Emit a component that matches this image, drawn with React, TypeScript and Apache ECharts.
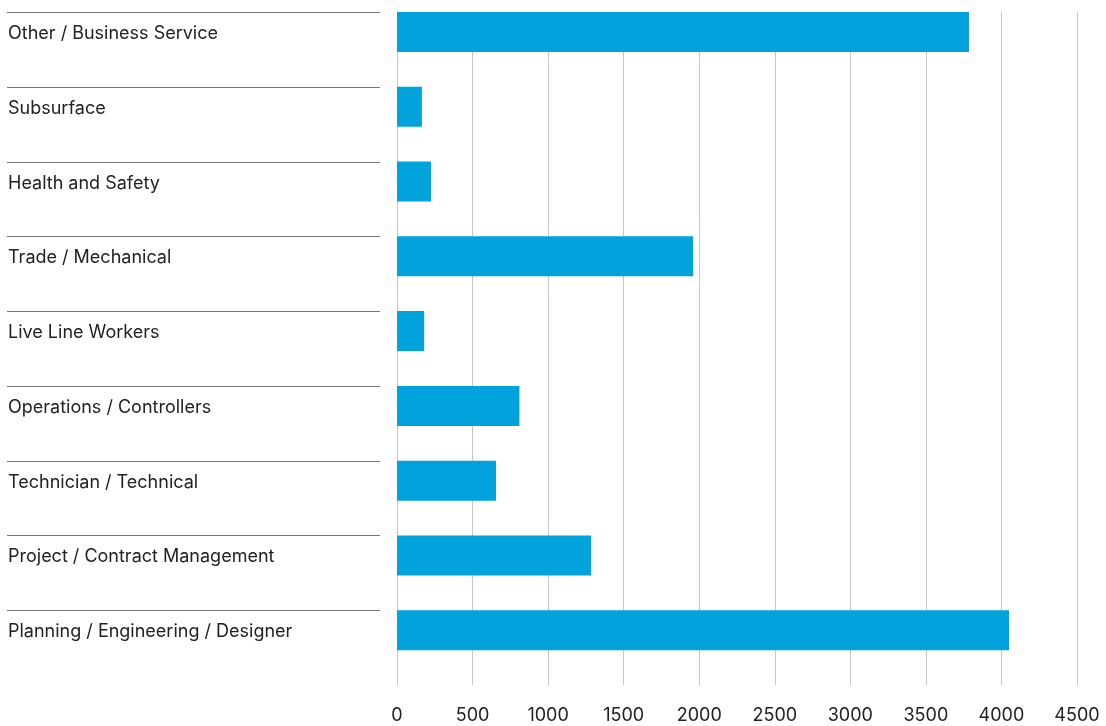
import React, { useEffect, useRef } from "react";
import * as echarts from "echarts";

const categories = [
  "Other / Business Service",
  "Subsurface",
  "Health and Safety",
  "Trade / Mechanical",
  "Live Line Workers",
  "Operations / Controllers",
  "Technician / Technical",
  "Project / Contract Management",
  "Planning / Engineering / Designer",
];
const values = [3785, 165, 225, 1960, 180, 810, 655, 1285, 4050];
const ghost = categories.map(() => "-");

export default function App() {
  const ref = useRef<HTMLDivElement>(null);
  useEffect(() => {
    if (!ref.current) return;
    const chart = echarts.init(ref.current, null, { renderer: "svg" });
    const font = "Inter, 'Noto Sans', sans-serif";
    chart.setOption({
      animation: false,
      grid: { left: 397, right: 29, top: 12, bottom: 41, containLabel: false },
      xAxis: {
        type: "value",
        min: 0,
        max: 4500,
        interval: 500,
        axisLine: { show: false },
        axisTick: { show: false },
        axisLabel: {
          color: "#222",
          fontSize: 18,
          fontFamily: font,
          margin: 20,
          formatter: (v: number) => String(v),
        },
        splitLine: { show: true, lineStyle: { color: "#c6c6c6", width: 1 } },
      },
      yAxis: {
        type: "category",
        data: categories,
        inverse: true,
        axisLine: { show: false },
        axisTick: { show: false },
        axisLabel: { show: false },
        splitLine: { show: false },
      },
      series: [
        {
          type: "bar",
          data: values,
          barWidth: 40,
          barGap: "-13%",
          itemStyle: { color: "#02a3dc" },
        },
        {
          type: "bar",
          data: ghost,
          barWidth: 40,
          itemStyle: { color: "transparent" },
        },
        {
          type: "custom",
          clip: false,
          silent: true,
          data: categories.map((c, i) => [0, i]),
          renderItem: (params: any, api: any) => {
            const idx = api.value(1);
            const p = api.coord([0, idx]);
            const bh = api.size([0, 1])[1];
            const top = Math.round(p[1] - bh / 2) + 0.5;
            return {
              type: "group",
              children: [
                {
                  type: "line",
                  shape: { x1: 7, y1: top, x2: 380, y2: top },
                  style: { stroke: "#777", lineWidth: 1 },
                },
                {
                  type: "text",
                  style: {
                    text: categories[idx],
                    x: 8,
                    y: top + 20,
                    verticalAlign: "middle",
                    align: "left",
                    fill: "#222",
                    fontSize: 18,
                    fontFamily: font,
                  },
                },
              ],
            };
          },
        },
      ],
    });
    return () => chart.dispose();
  }, []);
  return (
    <div
      ref={ref}
      style={{ position: "fixed", left: 0, top: 0, width: 1106, height: 726 }}
    />
  );
}
